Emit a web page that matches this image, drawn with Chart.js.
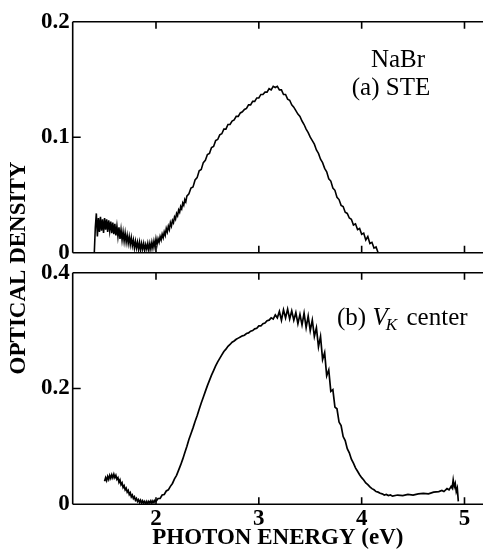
<!DOCTYPE html>
<html>
<head>
<meta charset="utf-8">
<script src="https://cdn.jsdelivr.net/npm/chart.js@4"></script>
<style>
  html, body { margin: 0; padding: 0; background: #fff; }
  #wrap { position: relative; width: 483px; height: 552px; }
  #wrap canvas { position: absolute; left: 0; top: 0; }
</style>
</head>
<body>
<div id="wrap">
  <canvas id="panelA" width="483" height="552"></canvas>
  <canvas id="panelB" width="483" height="552"></canvas>
</div>
<script>
// ---------------- DATA ----------------
const xTicks = [2, 3, 4, 5];
const yTicksA = [0, 0.1, 0.2];
const yTicksB = [0, 0.2, 0.4];

// (a) STE spectrum: photon energy (eV) and optical density
const energiesA = [
  1.40,1.41,1.42,1.43,1.44,1.45,1.46,1.47,1.48,1.49,
  1.50,1.51,1.52,1.53,1.54,1.55,1.56,1.57,1.58,1.59,
  1.60,1.61,1.62,1.63,1.64,1.65,1.66,1.67,1.68,1.69,
  1.70,1.71,1.72,1.73,1.74,1.75,1.76,1.77,1.78,1.79,
  1.80,1.81,1.82,1.83,1.84,1.85,1.86,1.87,1.88,1.89,
  1.90,1.91,1.92,1.93,1.94,1.95,1.96,1.97,1.98,1.99,
  2.00,2.01,2.02,2.03,2.04,2.05,2.06,2.07,2.08,2.09,
  2.10,2.11,2.12,2.13,2.14,2.15,2.16,2.17,2.18,2.19,
  2.20,2.21,2.22,2.23,2.24,2.25,2.26,2.27,2.28,2.29,
  2.30,
  2.32,2.34,2.36,2.38,2.40,2.42,2.44,2.46,2.48,2.50,
  2.52,2.54,2.56,2.58,2.60,2.62,2.64,2.66,2.68,2.70,
  2.72,2.74,2.76,2.78,2.80,2.82,2.84,2.86,2.88,2.90,
  2.92,2.94,2.96,2.98,3.00,3.02,3.04,3.06,3.08,3.10,
  3.12,3.14,3.16,3.18,3.20,3.22,3.24,3.26,3.28,3.30,
  3.32,3.34,3.36,3.38,3.40,3.42,3.44,3.46,3.48,3.50,
  3.52,3.54,3.56,3.58,3.60,3.62,3.64,3.66,3.68,3.70,
  3.72,3.74,3.76,3.78,3.80,3.82,3.84,3.86,3.88,3.90,
  3.92,3.94,3.96,3.98,4.00,4.02,4.04,4.06,4.08,4.10,
  4.12,4.14,4.16
];
const densityA = [
  0.000,0.022,0.034,0.014,0.030,0.018,0.031,0.019,0.029,0.017,
  0.030,0.020,0.029,0.018,0.028,0.019,0.027,0.017,0.026,0.016,
  0.025,0.015,0.023,0.014,0.022,0.012,0.020,0.011,0.018,0.010,
  0.017,0.009,0.015,0.008,0.014,0.007,0.013,0.006,0.011,0.004,
  0.010,0.004,0.009,0.003,0.009,0.002,0.008,0.003,0.008,0.002,
  0.007,0.003,0.008,0.002,0.008,0.003,0.009,0.004,0.010,0.005,
  0.012,0.007,0.012,0.009,0.014,0.011,0.016,0.013,0.018,0.015,
  0.021,0.018,0.023,0.020,0.026,0.023,0.028,0.026,0.031,0.029,
  0.034,0.032,0.037,0.035,0.040,0.038,0.043,0.041,0.046,0.044,
  0.049,
  0.051,0.056,0.057,0.063,0.065,0.071,0.072,0.078,0.080,0.085,
  0.086,0.091,0.092,0.097,0.098,0.102,0.103,0.107,0.107,0.111,
  0.111,0.114,0.115,0.118,0.118,0.121,0.122,0.124,0.125,0.128,
  0.128,0.131,0.131,0.134,0.134,0.137,0.137,0.139,0.139,0.142,
  0.141,0.144,0.143,0.144,0.141,0.141,0.137,0.137,0.133,0.132,
  0.128,0.126,0.123,0.120,0.118,0.114,0.111,0.107,0.104,0.100,
  0.097,0.094,0.089,0.086,0.081,0.078,0.073,0.070,0.064,0.062,
  0.056,0.054,0.048,0.046,0.041,0.040,0.035,0.034,0.030,0.029,
  0.024,0.025,0.020,0.021,0.016,0.017,0.011,0.014,0.008,0.009,
  0.004,0.005,0.000
];

// (b) V_K center spectrum
const energiesB = [
  1.50,1.51,1.52,1.53,1.54,1.55,1.56,1.57,1.58,1.59,
  1.60,1.61,1.62,1.63,1.64,1.65,1.66,1.67,1.68,1.69,
  1.70,1.71,1.72,1.73,1.74,1.75,1.76,1.77,1.78,1.79,
  1.80,1.81,1.82,1.83,1.84,1.85,1.86,1.87,1.88,1.89,
  1.90,1.91,1.92,1.93,1.94,1.95,1.96,1.97,1.98,1.99,
  2.00,
  2.02,2.04,2.06,2.08,2.10,2.12,2.14,2.16,2.18,2.20,
  2.22,2.24,2.26,2.28,2.30,2.32,2.34,2.36,2.38,2.40,
  2.42,2.44,2.46,2.48,2.50,2.52,2.54,2.56,2.58,2.60,
  2.62,2.64,2.66,2.68,2.70,2.72,2.74,2.76,2.78,2.80,
  2.82,2.84,2.86,2.88,2.90,2.92,2.94,2.96,2.98,3.00,
  3.02,3.04,3.06,3.08,3.10,3.12,3.14,3.16,3.18,3.20,
  3.22,3.24,3.26,3.28,3.30,3.32,3.34,3.36,3.38,3.40,
  3.42,3.44,3.46,3.48,3.50,3.52,3.54,3.56,3.58,3.60,
  3.62,3.64,3.66,3.68,3.70,3.72,3.74,3.76,3.78,3.80,
  3.82,3.84,3.86,3.88,3.90,3.92,3.94,3.96,3.98,4.00,
  4.02,4.04,4.06,4.08,4.10,4.12,4.14,4.16,4.18,4.20,
  4.22,4.24,4.26,4.28,4.30,
  4.35,4.40,4.45,4.50,4.55,4.60,4.65,4.70,4.75,4.78,
  4.80,4.83,4.85,4.87,4.88,4.89,4.90,4.91,4.92,4.93,
  4.94
];
const densityB = [
  0.040,0.046,0.041,0.048,0.043,0.050,0.045,0.051,0.046,0.052,
  0.046,0.050,0.043,0.046,0.038,0.042,0.034,0.037,0.029,0.032,
  0.025,0.028,0.021,0.024,0.017,0.020,0.013,0.016,0.010,0.013,
  0.007,0.010,0.005,0.008,0.003,0.007,0.002,0.006,0.002,0.005,
  0.001,0.005,0.001,0.005,0.002,0.006,0.002,0.006,0.003,0.007,
  0.005,
  0.010,0.010,0.016,0.017,0.023,0.025,0.031,0.036,0.044,0.050,
  0.059,0.068,0.078,0.089,0.100,0.112,0.122,0.132,0.143,0.153,
  0.164,0.175,0.185,0.195,0.205,0.214,0.223,0.231,0.239,0.246,
  0.252,0.258,0.264,0.268,0.273,0.276,0.280,0.282,0.285,0.287,
  0.289,0.291,0.292,0.295,0.296,0.299,0.300,0.303,0.304,0.308,
  0.308,0.312,0.313,0.317,0.318,0.322,0.320,0.327,0.322,0.333,
  0.318,0.336,0.322,0.337,0.320,0.334,0.318,0.331,0.312,0.328,
  0.310,0.330,0.305,0.325,0.300,0.318,0.290,0.305,0.272,0.290,
  0.250,0.262,0.222,0.232,0.195,0.198,0.168,0.165,0.142,0.136,
  0.117,0.110,0.096,0.089,0.078,0.071,0.063,0.057,0.051,0.046,
  0.042,0.037,0.034,0.030,0.027,0.025,0.022,0.021,0.019,0.018,
  0.016,0.017,0.015,0.016,0.014,
  0.016,0.015,0.017,0.016,0.018,0.019,0.018,0.021,0.022,0.024,
  0.022,0.027,0.025,0.031,0.028,0.042,0.030,0.036,0.022,0.028,
  0.005
];

const xMin = 1.19, xMax = 5.18;
const SERIF = "'Liberation Serif', 'Times New Roman', serif";

// ---------------- HELPERS ----------------
function pts(xs, ys) { return xs.map((x, i) => ({ x: x, y: ys[i] })); }
function fmt(v) { return v === 0 ? '0' : v.toFixed(1); }

function framePlugin(yTickVals) {
  return {
    id: 'frame',
    afterDatasetsDraw(chart) {
      const { ctx, chartArea: a, scales: { x, y } } = chart;
      ctx.save();
      ctx.strokeStyle = '#000';
      ctx.lineWidth = 1.6;
      ctx.beginPath();
      ctx.moveTo(a.left, a.top); ctx.lineTo(a.left, a.bottom);
      ctx.moveTo(a.left, a.top); ctx.lineTo(a.right, a.top);
      ctx.moveTo(a.left, a.bottom); ctx.lineTo(a.right, a.bottom);
      xTicks.forEach(v => {
        const px = x.getPixelForValue(v);
        ctx.moveTo(px, a.top); ctx.lineTo(px, a.top + 7);
        ctx.moveTo(px, a.bottom); ctx.lineTo(px, a.bottom - 7);
      });
      yTickVals.slice(1, -1).forEach(v => {
        const py = y.getPixelForValue(v);
        ctx.moveTo(a.left, py); ctx.lineTo(a.left + 8, py);
      });
      ctx.stroke();
      ctx.restore();
    }
  };
}

function baseOptions(yMax, yTickVals, padTop, padBottom, showX) {
  return {
    responsive: false,
    animation: false,
    events: [],
    layout: { padding: { top: padTop, bottom: padBottom, left: 0, right: 0 } },
    plugins: { legend: { display: false }, tooltip: { enabled: false } },
    elements: { point: { radius: 0 }, line: { tension: 0 } },
    scales: {
      x: {
        type: 'linear', min: xMin, max: xMax,
        grid: { display: false, drawTicks: false, tickLength: 0 },
        border: { display: false },
        afterBuildTicks: s => { s.ticks = xTicks.map(v => ({ value: v })); },
        ticks: {
          display: showX, color: '#000', padding: 1,
          font: { family: SERIF, size: 23, weight: 'bold' },
          callback: v => String(v)
        },
        title: showX ? {
          display: true, text: 'PHOTON ENERGY (eV)', color: '#000',
          font: { family: SERIF, size: 23, weight: 'bold' }, padding: { top: 0, bottom: 0 }
        } : { display: false },
        afterFit: s => { s.height = showX ? 47.7 : 0; }
      },
      y: {
        type: 'linear', min: 0, max: yMax,
        grid: { display: false, drawTicks: false, tickLength: 0 },
        border: { display: false },
        afterBuildTicks: s => { s.ticks = yTickVals.map(v => ({ value: v })); },
        ticks: {
          color: '#000', padding: 3,
          font: { family: SERIF, size: 23, weight: 'bold' },
          callback: v => fmt(v)
        },
        afterFit: s => { s.width = 72.7; }
      }
    }
  };
}

// ---------------- PANEL (a) ----------------
const textA = {
  id: 'textA',
  afterDraw(chart) {
    const ctx = chart.ctx;
    ctx.save();
    ctx.fillStyle = '#000';
    ctx.font = '25px ' + SERIF;
    ctx.textAlign = 'center';
    ctx.textBaseline = 'alphabetic';
    ctx.fillText('NaBr', 398, 67);
    ctx.fillText('(a) STE', 391, 95);
    ctx.restore();
  }
};

new Chart(document.getElementById('panelA'), {
  type: 'line',
  data: { datasets: [{ data: pts(energiesA, densityA), borderColor: '#000', borderWidth: 1.6, pointRadius: 0, fill: false }] },
  options: baseOptions(0.2, yTicksA, 21.7, 552 - 252.7, false),
  plugins: [framePlugin(yTicksA), textA]
});

// ---------------- PANEL (b) ----------------
const textB = {
  id: 'textB',
  afterDraw(chart) {
    const ctx = chart.ctx;
    ctx.save();
    ctx.fillStyle = '#000';
    ctx.textBaseline = 'alphabetic';
    ctx.textAlign = 'left';
    let x = 337;
    ctx.font = '25px ' + SERIF;
    ctx.fillText('(b) ', x, 325);
    x += ctx.measureText('(b) ').width;
    ctx.font = 'italic 25px ' + SERIF;
    ctx.fillText('V', x, 325);
    x += ctx.measureText('V').width - 2;
    ctx.font = 'italic 17px ' + SERIF;
    ctx.fillText('K', x, 330);
    ctx.font = '25px ' + SERIF;
    ctx.fillText('center', 406.5, 325);

    // shared vertical axis title
    ctx.translate(19, 268);
    ctx.rotate(-Math.PI / 2);
    ctx.textAlign = 'center';
    ctx.textBaseline = 'middle';
    ctx.font = 'bold 23px ' + SERIF;
    ctx.fillText('OPTICAL DENSITY', 0, 0);
    ctx.restore();
  }
};

new Chart(document.getElementById('panelB'), {
  type: 'line',
  data: { datasets: [{ data: pts(energiesB, densityB), borderColor: '#000', borderWidth: 1.7, pointRadius: 0, fill: false }] },
  options: baseOptions(0.4, yTicksB, 272.7, 0, true),
  plugins: [framePlugin(yTicksB), textB]
});
</script>
</body>
</html>
